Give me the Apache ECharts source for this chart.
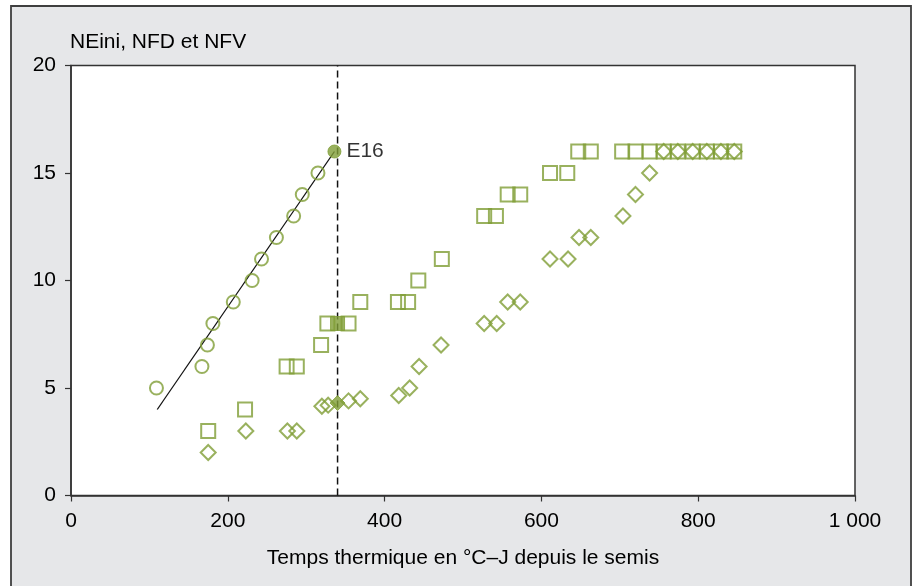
<!DOCTYPE html>
<html>
<head>
<meta charset="utf-8">
<script src="https://cdn.jsdelivr.net/npm/echarts@6/dist/echarts.min.js"></script>
<style>html,body{margin:0;padding:0;background:#fff;}#c{width:916px;height:586px;}</style>
</head>
<body>
<div id="c"></div>
<script>
// NEini (circles)
var neiniX = [109, 167, 174, 181, 207, 231, 243, 262, 284, 295, 315];
var neiniY = [5, 6, 7, 8, 9, 10, 11, 12, 13, 14, 15];
var e16X = 336, e16Y = 16, e16Label = 'E16';
// NFD (squares)
var nfdX = [175, 222, 275, 288, 319, 327, 354, 369, 417, 430, 443, 473, 527, 542, 557, 573, 611, 633, 647, 663, 703, 720, 738, 756, 774, 793, 811, 829, 846];
var nfdY = [3, 4, 6, 6, 7, 8, 8, 9, 9, 9, 10, 11, 13, 13, 14, 14, 15, 15, 16, 16, 16, 16, 16, 16, 16, 16, 16, 16, 16];
var nfdFilled = [340, 8];
// NFV (diamonds)
var nfvX = [175, 223, 276, 288, 320, 328, 354, 369, 418, 432, 444, 472, 527, 543, 557, 573, 611, 634, 648, 663, 704, 720, 738, 756, 774, 793, 811, 829, 846];
var nfvY = [2, 3, 3, 3, 4.15, 4.2, 4.4, 4.5, 4.65, 5, 6, 7, 8, 8, 9, 9, 11, 11, 12, 12, 13, 14, 15, 16, 16, 16, 16, 16, 16];
var nfvFilled = [340, 4.3];
// regression line and E16 time
var regX = [110, 336];
var regY = [4, 16];
var e16Time = 340;
var xTicks = [0, 200, 400, 600, 800, 1000];
var yTicks = [0, 5, 10, 15, 20];
var titleText = 'NEini, NFD et NFV';
var xName = 'Temps thermique en °C–J depuis le semis';

var green = '#809d36';
var font = 'Liberation Sans';
var fs = 21;
function pairs(xs, ys){ return xs.map(function(x,i){ return [x, ys[i]]; }); }

var chart = echarts.init(document.getElementById('c'), null, {renderer:'canvas'});
chart.setOption({
  backgroundColor: '#ffffff',
  animation: false,
  graphic: [
    {type:'rect', z:-10, shape:{x:11, y:6, width:900, height:600},
     style:{fill:'#e6e7e9', stroke:'#3f3f3f', lineWidth:1.8}},
    {type:'text', left:70, top:32, z:10,
     style:{text:titleText, fill:'#000', font:fs + 'px "Liberation Sans"'}}
  ],
  grid: {left:71, right:61, top:65.5, bottom:90.5, show:true, backgroundColor:'#ffffff', borderColor:'#333', borderWidth:1.5, z:0},
  xAxis: {
    type:'value', min:0, max:1000, interval:200,
    name: xName, nameLocation:'middle', nameGap:52,
    nameTextStyle:{fontFamily:font, fontSize:fs, color:'#000'},
    axisLine:{show:true, lineStyle:{color:'#333', width:1.5}},
    axisTick:{show:true, length:6, inside:false, lineStyle:{color:'#333', width:1.2}},
    axisLabel:{fontFamily:font, fontSize:fs, color:'#000', margin:15,
      formatter:function(v){ return v===1000 ? '1 000' : String(v); }},
    splitLine:{show:false}
  },
  yAxis: {
    type:'value', min:0, max:20, interval:5,
    axisLine:{show:true, lineStyle:{color:'#333', width:1.5}},
    axisTick:{show:true, length:6, inside:false, lineStyle:{color:'#333', width:1.2}},
    axisLabel:{fontFamily:font, fontSize:fs, color:'#000', margin:15},
    splitLine:{show:false}
  },
  series: [
    {type:'line', data:[[e16Time,0],[e16Time,20]], symbol:'none', z:1,
     lineStyle:{color:'#111', width:1.5, type:[7,4]}},
    {type:'line', data:pairs(regX, regY), symbol:'none', z:2,
     lineStyle:{color:'#111', width:1.3}},
    {type:'scatter', data:pairs(neiniX, neiniY), symbol:'circle', symbolSize:13, z:3,
     itemStyle:{color:'rgba(0,0,0,0)', borderColor:green, borderWidth:2}},
    {type:'scatter', data:pairs(nfdX, nfdY), symbol:'rect', symbolSize:14, z:3,
     itemStyle:{color:'rgba(0,0,0,0)', borderColor:green, borderWidth:2}},
    {type:'scatter', data:pairs(nfvX, nfvY), symbol:'diamond', symbolSize:[15,15], z:3,
     itemStyle:{color:'rgba(0,0,0,0)', borderColor:green, borderWidth:2}},
    {type:'scatter', data:[nfdFilled], symbol:'rect', symbolSize:14, z:4,
     itemStyle:{color:green, borderColor:green, borderWidth:1}},
    {type:'scatter', data:[nfvFilled], symbol:'diamond', symbolSize:[15,15], z:4,
     itemStyle:{color:green, borderColor:green, borderWidth:1}},
    {type:'scatter', data:[[e16X, e16Y]], symbol:'circle', symbolSize:13, z:4,
     itemStyle:{color:green, borderColor:green, borderWidth:1},
     label:{show:true, position:'right', distance:5, formatter:e16Label,
       fontFamily:font, fontSize:fs, color:'#000'}}
  ]
});
</script>
</body>
</html>
